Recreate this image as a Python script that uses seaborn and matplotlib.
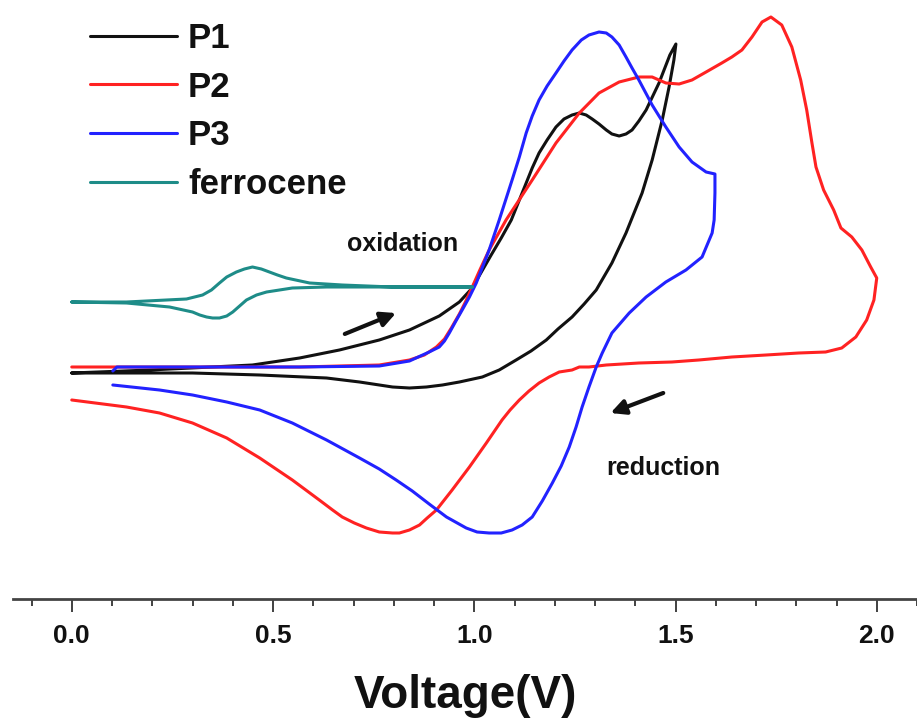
import numpy as np
import pandas as pd
import seaborn as sns
import matplotlib.pyplot as plt

###################
# Data (voltage in V, current in arbitrary units)
p1_v = [0.000, 0.194, 0.449, 0.566, 0.665, 0.764, 0.839, 0.913, 0.963, 0.995, 1.012, 1.042, 1.067,
        1.092, 1.109, 1.127, 1.144, 1.161, 1.181, 1.203, 1.223, 1.243, 1.261, 1.278, 1.293, 1.310,
        1.328, 1.342, 1.360, 1.377, 1.392, 1.409, 1.427, 1.459, 1.486, 1.501,
        1.496, 1.484, 1.467, 1.442, 1.417, 1.395, 1.377, 1.342, 1.303, 1.273, 1.243, 1.208,
        1.179, 1.141, 1.104, 1.062, 1.020, 0.963, 0.921, 0.881, 0.839, 0.797, 0.715, 0.633,
        0.467, 0.300, 0.000]
p1_i = [0.0, 0.3, 0.8, 1.5, 2.3, 3.3, 4.3, 5.7, 7.1, 8.5, 9.7, 11.8, 13.5,
        15.3, 17.0, 18.8, 20.5, 22.0, 23.3, 24.6, 25.4, 25.8, 26.0, 25.8, 25.4, 24.9,
        24.3, 23.9, 23.7, 23.9, 24.3, 25.2, 26.3, 29.0, 31.8, 32.9,
        31.3, 28.6, 25.3, 21.3, 18.0, 15.8, 14.0, 11.0, 8.3, 6.9, 5.6, 4.4,
        3.3, 2.2, 1.3, 0.3, -0.4, -0.9, -1.2, -1.4, -1.5, -1.4, -0.9, -0.5,
        -0.2, 0.0, 0.0]

p2_v = [0.000, 0.318, 0.566, 0.764, 0.839, 0.876, 0.906, 0.926, 0.943, 0.963, 0.978, 0.995, 1.015,
        1.037, 1.079, 1.144, 1.203, 1.261, 1.310, 1.360, 1.409, 1.442, 1.476, 1.509, 1.541,
        1.576, 1.615, 1.640, 1.665, 1.690, 1.715, 1.737, 1.764, 1.789, 1.811, 1.826, 1.839,
        1.849, 1.868, 1.893, 1.911, 1.938, 1.963, 1.985, 2.000,
        1.993, 1.975, 1.948, 1.913, 1.873, 1.806, 1.725, 1.640, 1.558, 1.491, 1.409, 1.328,
        1.285, 1.261, 1.243, 1.211, 1.186, 1.161, 1.136, 1.112, 1.089, 1.069, 1.030, 0.988,
        0.945, 0.906, 0.883, 0.864, 0.839, 0.814, 0.797, 0.764, 0.732, 0.702, 0.672, 0.648,
        0.615, 0.548, 0.467, 0.385, 0.300, 0.218, 0.136, 0.000]
p2_i = [0.6, 0.6, 0.6, 0.8, 1.3, 1.8, 2.6, 3.4, 4.5, 5.9, 7.1, 8.6, 10.4,
        12.3, 15.3, 19.3, 23.0, 26.0, 28.0, 29.1, 29.6, 29.6, 29.0, 28.9, 29.3,
        30.1, 31.0, 31.6, 32.3, 33.6, 35.1, 35.6, 34.8, 32.6, 29.3, 26.3, 23.0,
        20.6, 18.3, 16.3, 14.5, 13.6, 12.3, 10.6, 9.5,
        7.3, 5.3, 3.6, 2.5, 2.1, 2.0, 1.8, 1.6, 1.3, 1.1, 1.0, 0.8,
        0.6, 0.6, 0.3, 0.1, -0.4, -1.0, -1.8, -2.7, -3.7, -4.7, -7.0, -9.4,
        -11.7, -13.7, -14.5, -15.2, -15.7, -16.0, -16.0, -15.9, -15.5, -15.0, -14.4, -13.7,
        -12.7, -10.7, -8.5, -6.5, -5.0, -4.0, -3.4, -2.7]

p3_v = [0.102, 0.112, 0.318, 0.566, 0.764, 0.839, 0.888, 0.913, 0.926, 0.938, 0.953, 0.970, 0.988,
        1.005, 1.037, 1.062, 1.094, 1.112, 1.129, 1.144, 1.161, 1.181, 1.203, 1.223, 1.243,
        1.266, 1.285, 1.310, 1.328, 1.342, 1.360, 1.377, 1.392, 1.409, 1.442, 1.476, 1.509,
        1.541, 1.576, 1.598,
        1.598, 1.596, 1.591, 1.566, 1.526, 1.476, 1.427, 1.385, 1.342, 1.318, 1.303, 1.285,
        1.268, 1.253, 1.236, 1.216, 1.194, 1.169, 1.144, 1.119, 1.094, 1.067, 1.037, 1.007,
        0.980, 0.931, 0.888, 0.846, 0.806, 0.764, 0.715, 0.633, 0.548, 0.467, 0.385, 0.300,
        0.218, 0.102]
p3_i = [0.2, 0.6, 0.6, 0.6, 0.7, 1.2, 2.1, 2.6, 3.2, 4.0, 5.1, 6.3, 7.6,
        9.0, 12.3, 15.3, 19.3, 21.6, 24.0, 25.7, 27.3, 28.7, 30.0, 31.2, 32.3,
        33.3, 33.8, 34.1, 34.0, 33.6, 32.8, 31.6, 30.5, 29.3, 26.8, 24.6, 22.6,
        21.1, 20.1, 19.9,
        18.0, 15.3, 14.0, 11.6, 10.3, 9.1, 7.6, 6.0, 4.0, 2.0, 0.6, -1.4,
        -3.4, -5.4, -7.4, -9.3, -11.0, -12.8, -14.4, -15.2, -15.7, -16.0, -16.0, -15.9,
        -15.5, -14.4, -13.1, -11.8, -10.7, -9.6, -8.5, -6.7, -5.0, -3.7, -2.9, -2.2,
        -1.7, -1.2]

fc_v = [0.000, 0.136, 0.285, 0.325, 0.347, 0.367, 0.385, 0.409, 0.429, 0.449, 0.471, 0.491, 0.511,
        0.533, 0.591, 0.672, 0.797, 0.995,
        0.633, 0.548, 0.484, 0.459, 0.434, 0.417, 0.400, 0.385, 0.367, 0.350, 0.335, 0.318,
        0.300, 0.243, 0.136, 0.000]
fc_i = [7.1, 7.1, 7.4, 7.8, 8.3, 9.0, 9.6, 10.1, 10.4, 10.6, 10.4, 10.1, 9.8,
        9.5, 9.0, 8.8, 8.6, 8.6,
        8.6, 8.5, 8.1, 7.8, 7.3, 6.7, 6.1, 5.7, 5.5, 5.5, 5.6, 5.8,
        6.1, 6.6, 7.0, 7.1]

labels = ["P1", "P2", "P3", "ferrocene"]
colors = ["#111111", "#ff2222", "#2222ff", "#1e8c88"]

###################
# Setup
frames = []
for name, v, i in zip(labels, [p1_v, p2_v, p3_v, fc_v], [p1_i, p2_i, p3_i, fc_i]):
    frames.append(pd.DataFrame({"Voltage": v, "Current": i, "sample": name}))
data = pd.concat(frames, ignore_index=True)

sns.set_style("ticks")
plt.rcParams["font.family"] = ["Liberation Sans", "DejaVu Sans"]
plt.rcParams["text.color"] = "#111111"
plt.rcParams["xtick.labelcolor"] = "#111111"
plt.rcParams["axes.labelcolor"] = "#111111"

fig = plt.figure(figsize=(9.17, 7.24), dpi=100)
ax = fig.add_axes([13 / 917, 125 / 724, 904 / 917, 599 / 724])

sns.lineplot(data=data, x="Voltage", y="Current", hue="sample", palette=dict(zip(labels, colors)),
             sort=False, estimator=None, linewidth=2.2, ax=ax)

###################
# Axes
ax.set_xlim(-0.146, 2.097)
ax.set_ylim(-22.6, 37.3)
ax.set_xticks(np.arange(0, 2.01, 0.5))
ax.set_xticks(np.arange(-0.1, 2.11, 0.1), minor=True)
ax.set_xticklabels(["0.0", "0.5", "1.0", "1.5", "2.0"], fontsize=19, fontweight="bold")
ax.set_yticks([])
ax.set_ylabel("")
ax.set_xlabel("Voltage(V)", fontsize=33, fontweight="bold", labelpad=19)
ax.tick_params(axis="x", which="major", length=9, width=1.3, pad=9, color="#333333")
ax.tick_params(axis="x", which="minor", length=5, width=1.3, color="#333333")
sns.despine(ax=ax, left=True, top=True, right=True)
ax.spines["bottom"].set_linewidth(2)
ax.spines["bottom"].set_color("#444444")

###################
# Annotations
ax.annotate("", xy=(0.812, 6.1), xytext=(0.672, 3.8),
            arrowprops=dict(arrowstyle="-|>", color="#111111", lw=3, mutation_scale=22))
ax.annotate("", xy=(1.332, -4.1), xytext=(1.476, -1.9),
            arrowprops=dict(arrowstyle="-|>", color="#111111", lw=3, mutation_scale=22))
ax.text(0.822, 12.9, "oxidation", ha="center", va="center", fontsize=18, fontweight="bold")
ax.text(1.470, -9.5, "reduction", ha="center", va="center", fontsize=18, fontweight="bold")

sns.move_legend(ax, "upper left", bbox_to_anchor=(90 / 917, 1 - 22 / 724), bbox_transform=fig.transFigure,
                frameon=False, title=None, fontsize=25, handlelength=2.5, labelspacing=0.45,
                handletextpad=0.32, borderpad=0, borderaxespad=0)
for t in ax.get_legend().get_texts():
    t.set_fontweight("bold")

###################
# Export
fig.savefig("out.png", dpi=100)
